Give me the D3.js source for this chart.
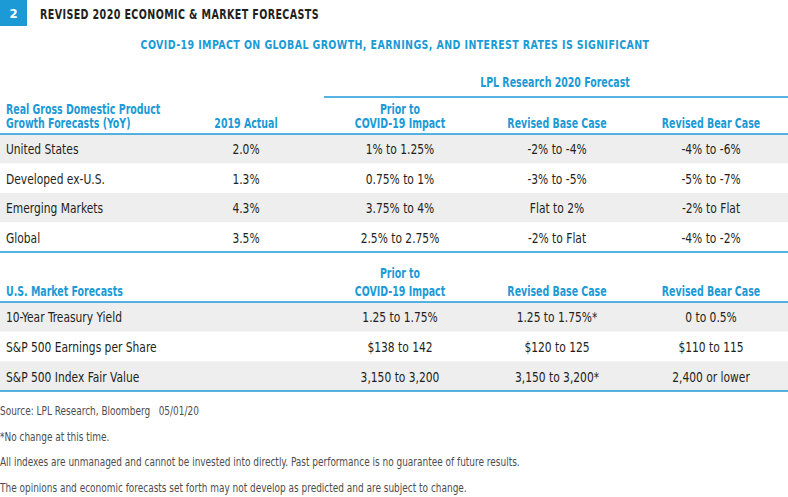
<!DOCTYPE html>
<html>
<head>
<meta charset="utf-8">
<script src="https://cdn.jsdelivr.net/npm/d3@7"></script>
<style>
  body { margin: 0; background: #fff; }
  svg { display: block; font-family: "DejaVu Sans Condensed", "DejaVu Sans", sans-serif; }
</style>
</head>
<body>
<div id="chart"></div>
<script>
// Table content
const gdpRows = ['United States', 'Developed ex-U.S.', 'Emerging Markets', 'Global'];
const gdpActual2019 = ['2.0%', '1.3%', '4.3%', '3.5%'];
const gdpPrior = ['1% to 1.25%', '0.75% to 1%', '3.75% to 4%', '2.5% to 2.75%'];
const gdpBase = ['-2% to -4%', '-3% to -5%', 'Flat to 2%', '-2% to Flat'];
const gdpBear = ['-4% to -6%', '-5% to -7%', '-2% to Flat', '-4% to -2%'];

const mktRows = ['10-Year Treasury Yield', 'S&P 500 Earnings per Share', 'S&P 500 Index Fair Value'];
const mktPrior = ['1.25 to 1.75%', '$138 to 142', '3,150 to 3,200'];
const mktBase = ['1.25 to 1.75%*', '$120 to 125', '3,150 to 3,200*'];
const mktBear = ['0 to 0.5%', '$110 to 115', '2,400 or lower'];

const columns = ['label', 'actual', 'prior', 'base', 'bear'];
const footnotes = [
    'Source: LPL Research, Bloomberg   05/01/20',
    '*No change at this time.',
    'All indexes are unmanaged and cannot be invested into directly. Past performance is no guarantee of future results.',
    'The opinions and economic forecasts set forth may not develop as predicted and are subject to change.'
];

const width = 788, height = 497;
const blue = '#1b9ad6', ink = '#231f20', band = '#eeeeee';

// horizontal squeeze to mimic the narrow face of the original
const NARROW_BOLD = 0.75, NARROW = 0.85;

const svg = d3.select('#chart').append('svg')
    .attr('width', width)
    .attr('height', height);

// Column centres
const colX = d3.scaleOrdinal()
    .domain(columns)
    .range([6, 246, 400, 557, 711]);

function label(parent, x, y, str, o) {
    return parent.append('text')
        .attr('transform', `translate(${x},${y}) scale(${o.sx},1)`)
        .attr('text-anchor', o.anchor || 'start')
        .attr('fill', o.fill || ink)
        .attr('font-weight', o.bold ? 'bold' : 'normal')
        .attr('font-size', o.size)
        .attr('letter-spacing', o.spacing || 0)
        .text(str);
}

// Figure number badge + title
svg.append('rect')
    .attr('x', 0).attr('y', 0)
    .attr('width', 27).attr('height', 26)
    .attr('fill', blue);
label(svg, 13.5, 18, '2', { sx: 1, anchor: 'middle', fill: '#fff', bold: true, size: 13 });
label(svg, 40, 19, 'REVISED 2020 ECONOMIC & MARKET FORECASTS', { sx: 0.76, bold: true, size: 14, spacing: 0.5 });

label(svg, 395, 49, 'COVID-19 IMPACT ON GLOBAL GROWTH, EARNINGS, AND INTEREST RATES IS SIGNIFICANT',
    { sx: 0.81, anchor: 'middle', fill: blue, bold: true, size: 13, spacing: 0.5 });

// Spanner header
label(svg, 555, 87, 'LPL Research 2020 Forecast', { sx: NARROW_BOLD, anchor: 'middle', fill: blue, bold: true, size: 14 });
svg.append('line')
    .attr('x1', 324).attr('x2', width)
    .attr('y1', 97).attr('y2', 97)
    .attr('stroke', blue).attr('stroke-width', 1.5);

function headerCell(col, lines, yLast, gap) {
    lines.forEach((s, i) => {
        label(svg, colX(col), yLast - (lines.length - 1 - i) * gap, s, {
            sx: NARROW_BOLD,
            anchor: col === 'label' ? 'start' : 'middle',
            fill: blue, bold: true, size: 14
        });
    });
}

function drawTable(top, bottom, rows) {
    const y = d3.scaleBand()
        .domain(d3.range(rows.length))
        .range([top, bottom]);

    const g = svg.append('g');
    g.selectAll('rect')
        .data(rows)
        .enter().append('rect')
        .attr('x', 0)
        .attr('y', (d, i) => y(i))
        .attr('width', width)
        .attr('height', y.bandwidth())
        .attr('fill', (d, i) => i % 2 === 0 ? band : '#fff');

    rows.forEach((r, i) => {
        columns.forEach(c => {
            if (r[c] === undefined) return;
            label(g, colX(c), y(i) + y.bandwidth() / 2 + 5.5, r[c], {
                sx: NARROW,
                anchor: c === 'label' ? 'start' : 'middle',
                size: 14
            });
        });
    });

    [top, bottom].forEach(v => {
        svg.append('line')
            .attr('x1', 0).attr('x2', width)
            .attr('y1', v).attr('y2', v)
            .attr('stroke', blue).attr('stroke-width', 1.5);
    });
}

// GDP table
headerCell('label', ['Real Gross Domestic Product', 'Growth Forecasts (YoY)'], 128, 14.5);
headerCell('actual', ['2019 Actual'], 128, 14.5);
headerCell('prior', ['Prior to', 'COVID-19 Impact'], 128, 14.5);
headerCell('base', ['Revised Base Case'], 128, 14.5);
headerCell('bear', ['Revised Bear Case'], 128, 14.5);

drawTable(134, 252, gdpRows.map((name, i) => ({
    label: name,
    actual: gdpActual2019[i],
    prior: gdpPrior[i],
    base: gdpBase[i],
    bear: gdpBear[i]
})));

// Market table
headerCell('label', ['U.S. Market Forecasts'], 296, 18);
headerCell('prior', ['Prior to', 'COVID-19 Impact'], 296, 18);
headerCell('base', ['Revised Base Case'], 296, 18);
headerCell('bear', ['Revised Bear Case'], 296, 18);

drawTable(302, 391, mktRows.map((name, i) => ({
    label: name,
    prior: mktPrior[i],
    base: mktBase[i],
    bear: mktBear[i]
})));

// Footnotes
const notes = svg.append('g');
footnotes.forEach((d, i) => {
    label(notes, 0, 415 + i * 25.7, d, { sx: 0.83, fill: '#4d4d4f', size: 12 })
        .style('white-space', 'pre');
});
</script>
</body>
</html>
